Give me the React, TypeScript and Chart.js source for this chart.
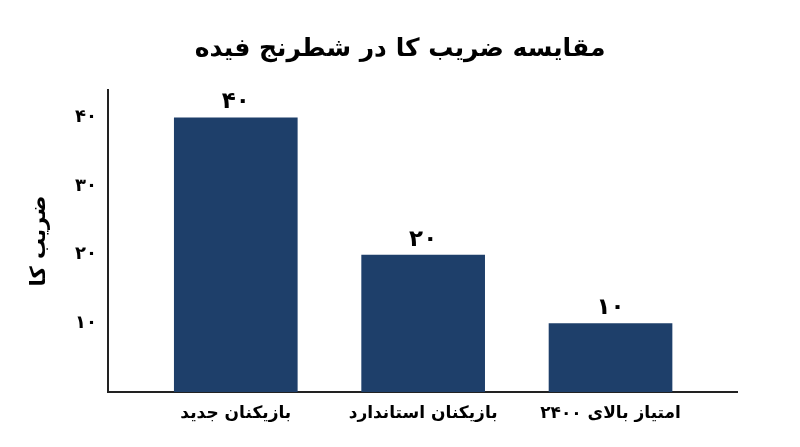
import React, { useEffect, useRef } from "react";
import { Chart, registerables } from "chart.js";

Chart.register(...registerables);

const categories = ["بازیکنان جدید", "بازیکنان استاندارد", "امتیاز بالای ۲۴۰۰"];
const kValues = [40, 20, 10];
const valueLabels = ["۴۰", "۲۰", "۱۰"];
const yTickValues = [10, 20, 30, 40];
const yTickLabels = ["۱۰", "۲۰", "۳۰", "۴۰"];
const titleText = "مقایسه ضریب کا در شطرنج فیده";
const yAxisTitle = "ضریب کا";

const FONT = "'DejaVu Sans', 'Noto Sans', sans-serif";
const BAR_COLOR = "#1e3f6a";

export default function App() {
  const ref = useRef<HTMLCanvasElement | null>(null);

  useEffect(() => {
    document.body.style.margin = "0";
    const canvas = ref.current;
    if (!canvas) return;

    const valueLabelPlugin = {
      id: "valueLabels",
      afterDatasetsDraw(chart: any) {
        const ctx = chart.ctx;
        const meta = chart.getDatasetMeta(0);
        ctx.save();
        ctx.font = `bold 23px ${FONT}`;
        ctx.fillStyle = "#000";
        ctx.textAlign = "center";
        ctx.textBaseline = "middle";
        meta.data.forEach((bar: any, i: number) => {
          ctx.fillText(valueLabels[i], bar.x, bar.y - 15);
        });
        ctx.restore();
      },
    };

    const chart = new Chart(canvas, {
      type: "bar",
      data: {
        datasets: [
          {
            data: kValues.map((v, i) => ({ x: i, y: v })),
            backgroundColor: BAR_COLOR,
            borderWidth: 0,
            barPercentage: 0.66,
            categoryPercentage: 1,
          },
        ],
      },
      options: {
        animation: false,
        responsive: false,
        devicePixelRatio: 1,
        layout: { padding: { left: 0, right: 0, top: 0, bottom: 12.6 } },
        plugins: {
          legend: { display: false },
          tooltip: { enabled: false },
          title: {
            display: true,
            text: titleText,
            color: "#000",
            font: { family: FONT, size: 25, weight: "bold" },
            padding: { top: 34, bottom: 26 },
          },
        },
        scales: {
          x: {
            type: "linear",
            offset: false,
            min: -0.682,
            max: 2.675,
            grid: { display: false, drawTicks: false },
            border: { display: true, color: "#222", width: 2 },
            afterBuildTicks: (axis: any) => {
              axis.ticks = categories.map((_, i) => ({ value: i }));
            },
            ticks: {
              color: "#000",
              padding: 11,
              font: { family: FONT, size: 17, weight: "bold" },
              callback: (v: any) => categories[v as number] ?? "",
              maxRotation: 0,
              autoSkip: false,
            },
          },
          y: {
            min: 0,
            max: 44,
            grid: { display: false, drawTicks: false },
            border: { display: true, color: "#222", width: 2 },
            afterFit: (scale: any) => {
              scale.width = 108;
            },
            afterBuildTicks: (axis: any) => {
              axis.ticks = yTickValues.map((v) => ({ value: v }));
            },
            ticks: {
              color: "#000",
              padding: 11,
              font: { family: FONT, size: 18, weight: "bold" },
              callback: (v: any) => yTickLabels[yTickValues.indexOf(v as number)] ?? "",
            },
            title: {
              display: true,
              text: yAxisTitle,
              color: "#000",
              font: { family: FONT, size: 21, weight: "bold" },
              padding: { top: 27, bottom: 0 },
            },
          },
          yRightSpace: {
            type: "linear",
            position: "right",
            display: true,
            grid: { display: false, drawTicks: false },
            border: { display: false },
            ticks: { display: false },
            afterFit: (scale: any) => {
              scale.width = 63;
            },
          },
        },
      },
      plugins: [valueLabelPlugin],
    });

    return () => chart.destroy();
  }, []);

  return (
    <div style={{ position: "absolute", left: 0, top: 0, width: 800, height: 447, background: "#fff" }}>
      <canvas ref={ref} width={800} height={447} style={{ width: 800, height: 447 }} />
    </div>
  );
}
